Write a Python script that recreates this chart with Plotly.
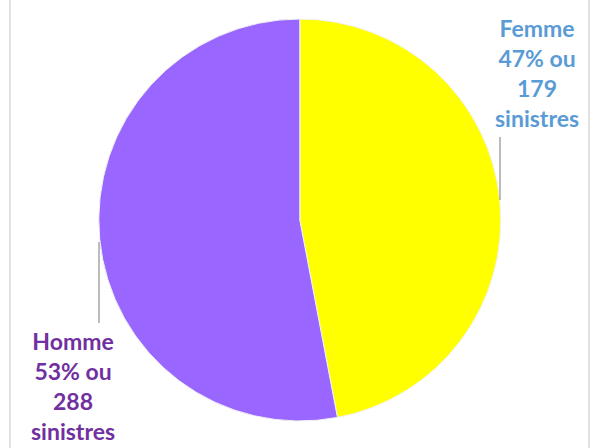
import plotly.graph_objects as go

labels = ["Femme", "Homme"]
percents = [47, 53]
counts = [179, 288]
colors = ["#FFFF00", "#9966FF"]
text_colors = ["#5B9BD5", "#7030A0"]

W, H = 596, 448

fig = go.Figure()
fig.add_trace(go.Pie(
    labels=labels,
    values=percents,
    sort=False,
    direction="clockwise",
    rotation=0,
    marker=dict(colors=colors, line=dict(color="#F2F2F2", width=1)),
    textinfo="none",
    hoverinfo="label+percent",
    showlegend=False,
    domain=dict(x=[0.006, 1], y=[1 - 421 / H, 1 - 19 / H]),
))

label_pos = [(537 / W, 1 - 73 / H), (73 / W, 1 - 386 / H)]
for lab, p, c, tc, (x, y) in zip(labels, percents, counts, text_colors, label_pos):
    fig.add_annotation(
        x=x, y=y, xref="paper", yref="paper",
        xanchor="center", yanchor="middle",
        text=f"<b>{lab}<br>{p}% ou<br>{c}<br>sinistres</b>",
        showarrow=False, align="center",
        font=dict(family="Lato", size=23, color=tc),
    )

# leader lines
fig.add_shape(type="line", xref="paper", yref="paper",
              x0=500 / W, x1=500 / W, y0=1 - 137 / H, y1=1 - 200 / H,
              line=dict(color="#A6A6A6", width=1.5))
fig.add_shape(type="line", xref="paper", yref="paper",
              x0=99 / W, x1=99 / W, y0=1 - 242 / H, y1=1 - 323 / H,
              line=dict(color="#A6A6A6", width=1.5))
# chart border edges
for bx in (10, 589):
    fig.add_shape(type="line", xref="paper", yref="paper",
                  x0=bx / W, x1=bx / W, y0=0, y1=1,
                  line=dict(color="#D9D9D9", width=1.5))

fig.update_layout(
    width=W, height=H,
    margin=dict(l=0, r=0, t=0, b=0),
    paper_bgcolor="white",
    plot_bgcolor="white",
)
fig.write_html("out.html", config={"displayModeBar": False},
               post_script="document.body.style.margin='0';")
